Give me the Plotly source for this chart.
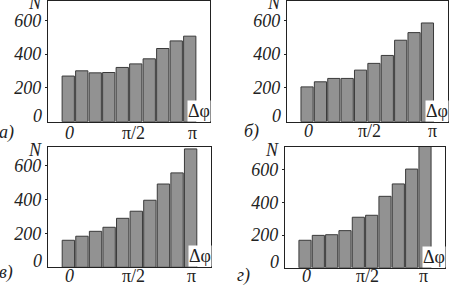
import plotly.graph_objects as go

# ---- data ----
bins = list(range(10))                     # 10 phase-difference bins from 0 to pi
counts_a = [270, 301, 289, 291, 321, 342, 372, 433, 478, 506]
counts_b = [206, 236, 256, 256, 305, 345, 392, 482, 527, 584]
counts_c = [160, 184, 213, 237, 290, 332, 397, 493, 559, 701]
counts_d = [168, 198, 202, 227, 309, 321, 437, 513, 604, 745]
panel_labels = ["а)", "б)", "в)", "г)"]
x_tick_text = ["<i>0</i>", "π/2", "π"]
y_tick_vals = [200, 400, 600]

W, H = 450, 287
FONT = "Liberation Serif, Times New Roman, serif"
FS = 18
panels = [
    dict(y=counts_a, xpx=(48, 210), ypx=(0.5, 121.7), ymax=717, xt=[0.1, 4.8, 9.2], xo=11, lab=(6, 132)),
    dict(y=counts_b, xpx=(287, 447.5), ypx=(0.5, 121.7), ymax=717, xt=[0.1, 4.65, 9.35], xo=9.5, lab=(251, 131)),
    dict(y=counts_c, xpx=(48, 211), ypx=(146.7, 267.3), ymax=714, xt=[0.1, 4.8, 9.1], xo=8.5, lab=(6, 272)),
    dict(y=counts_d, xpx=(285, 445), ypx=(146.7, 267.7), ymax=741, xt=[0.1, 4.7, 8.9], xo=8, lab=(243, 275)),
]

fig = go.Figure()
annotations = []
for i, p in enumerate(panels):
    n = "" if i == 0 else str(i + 1)
    xa, ya = "x" + n, "y" + n
    fig.add_trace(go.Bar(
        x=bins, y=p["y"], xaxis=xa, yaxis=ya,
        marker=dict(color="#929292", line=dict(color="#3a3a3a", width=1)),
        showlegend=False,
    ))
    xd = [p["xpx"][0] / W, p["xpx"][1] / W]
    yd = [1 - p["ypx"][1] / H, 1 - p["ypx"][0] / H]
    fig.update_layout(**{
        "xaxis" + n: dict(domain=xd, range=[-1.5, 10.5], showticklabels=False, ticks="",
                          showgrid=False, zeroline=False, showline=True, mirror=True,
                          linecolor="#222", linewidth=1.3, anchor=ya, fixedrange=True),
        "yaxis" + n: dict(domain=yd, range=[0, p["ymax"]], tickvals=y_tick_vals,
                          ticks="outside", ticklen=2, tickcolor="#222",
                          tickfont=dict(family=FONT, size=FS, color="#222", style="italic"),
                          showgrid=False, zeroline=False, showline=True, mirror=True,
                          linecolor="#222", linewidth=1.3, anchor=xa, fixedrange=True),
    })
    for xv, t in zip(p["xt"], x_tick_text):
        annotations.append(dict(x=xv, xref=xa, y=0, yref=ya + " domain", yshift=-p["xo"],
                                text=t, showarrow=False, xanchor="center", yanchor="middle",
                                font=dict(family=FONT, size=FS, color="#222")))
    annotations.append(dict(x=0, xref=xa + " domain", xshift=-4, y=0, yref=ya + " domain", yshift=6,
                            text="<i>0</i>", showarrow=False, xanchor="right", yanchor="middle",
                            font=dict(family=FONT, size=FS, color="#222")))
    annotations.append(dict(x=0, xref=xa + " domain", xshift=-4, y=1, yref=ya + " domain", yshift=-3,
                            text="<i>N</i>", showarrow=False, xanchor="right", yanchor="middle",
                            font=dict(family=FONT, size=FS, color="#222")))
    annotations.append(dict(x=1, xref=xa + " domain", xshift=1, y=0, yref=ya + " domain", yshift=11,
                            text="Δφ", showarrow=False, xanchor="right", yanchor="middle",
                            bgcolor="white", borderpad=0,
                            font=dict(family=FONT, size=FS, color="#222")))
    annotations.append(dict(x=p["lab"][0] / W, xref="paper", y=1 - p["lab"][1] / H, yref="paper",
                            text="<i>" + panel_labels[i] + "</i>", showarrow=False,
                            xanchor="center", yanchor="middle",
                            font=dict(family=FONT, size=FS, color="#222")))

fig.update_layout(
    width=W, height=H, margin=dict(l=0, r=0, t=0, b=0),
    paper_bgcolor="white", plot_bgcolor="white",
    bargap=0.09, annotations=annotations,
    font=dict(family=FONT, size=FS, color="#222"),
)
fig.write_html("out.html", config={"displayModeBar": False},
               post_script="document.body.style.margin='0';document.body.style.overflow='hidden';")
